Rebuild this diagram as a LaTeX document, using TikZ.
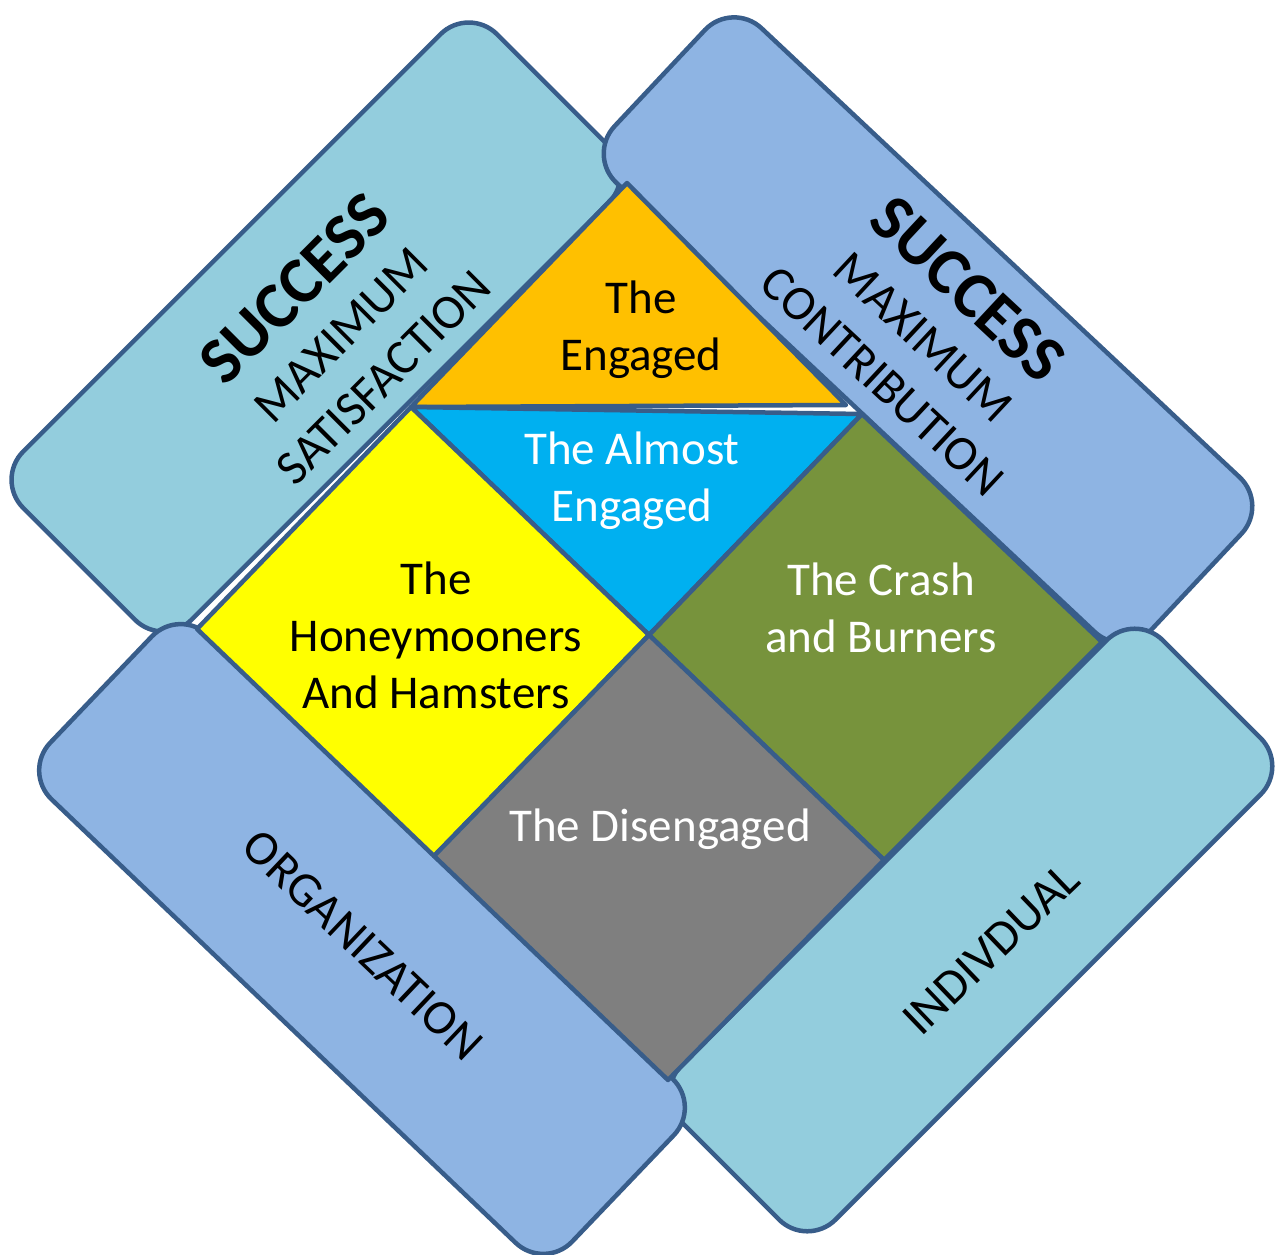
\documentclass[tikz,border=0pt]{standalone}
\usepackage{fontspec}
\setmainfont{Carlito}
\definecolor{edge}{HTML}{385D8A}
\definecolor{aqua}{HTML}{93CDDD}
\definecolor{bluelt}{HTML}{8EB4E3}
\definecolor{engaged}{HTML}{FFC000}
\definecolor{almost}{HTML}{00B0F0}
\definecolor{honey}{HTML}{FFFF00}
\definecolor{crash}{HTML}{77933C}
\definecolor{diseng}{HTML}{7F7F7F}
\begin{document}
\begin{tikzpicture}[x=1pt,y=-1pt,
  band/.style={draw=edge, line width=4.5pt, rounded corners=40pt, inner sep=0pt, outer sep=0pt},
  cell/.style={draw=edge, line width=4.5pt, line join=round},
  celltext/.style={font=\fontsize{47}{57}\selectfont, align=center, inner sep=0pt},
  bandtext/.style={font=\fontsize{49}{60}\selectfont, align=center, inner sep=0pt, text=black}
]
\fill[white] (0,0) rectangle (1285,1255);
\useasboundingbox (0,0) rectangle (1285,1255);

% outer bands
\node[band, fill=aqua, minimum width=670pt, minimum height=238pt, rotate=45] (tl) at (316,327) {};
\node[band, fill=bluelt, minimum width=736pt, minimum height=212pt, rotate=-43.2] (tr) at (928,330) {};
\node[band, fill=aqua, minimum width=681pt, minimum height=218pt, rotate=45] (br) at (971,930) {};
\node[band, fill=bluelt, minimum width=722pt, minimum height=227pt, rotate=-43.7] (bl) at (362,939) {};

% central diamond
\coordinate (T) at (627,183);
\coordinate (A) at (411,407);
\coordinate (E2) at (846,405);
\coordinate (M) at (862,414);
\coordinate (C) at (649,635);
\coordinate (L) at (197,629);
\coordinate (LB) at (434,856);
\coordinate (B) at (668,1080);
\coordinate (RB) at (884,860);
\coordinate (R) at (1102,642);

\draw[cell, fill=engaged] (T) -- (A) -- (E2) -- cycle;
\draw[cell, fill=almost] (A) -- (M) -- (C) -- cycle;
\draw[cell, fill=honey] (A) -- (L) -- (LB) -- (C) -- cycle;
\draw[cell, fill=crash] (M) -- (C) -- (RB) -- (R) -- cycle;
\draw[cell, fill=diseng] (C) -- (LB) -- (B) -- (RB) -- cycle;

% cell labels
\node[celltext] (engtxt) at (641,330) {The\\Engaged};
\node[celltext, text=white] (almtxt) at (632,481) {The Almost\\Engaged};
\node[celltext] (hontxt) at (436,635) {The\\Honeymooners\\And Hamsters};
\node[celltext, text=white] (crtxt) at (881,608) {The Crash\\and Burners};
\node[celltext, text=white] (distxt) at (660,829) {The Disengaged};

% band labels
\node[bandtext, rotate=45] (tllab) at (337,331) {{\bfseries\fontsize{66}{66}\selectfont SUCCESS}\\MAXIMUM\\SATISFACTION};
\node[bandtext, rotate=-43] (trlab) at (927,333) {{\bfseries\fontsize{66}{66}\selectfont SUCCESS}\\MAXIMUM\\CONTRIBUTION};
\node[bandtext, rotate=-43.5] (bllab) at (363,945) {ORGANIZATION};
\node[bandtext, rotate=43.8] (brlab) at (991,949) {INDIVDUAL};
\end{tikzpicture}
\end{document}
